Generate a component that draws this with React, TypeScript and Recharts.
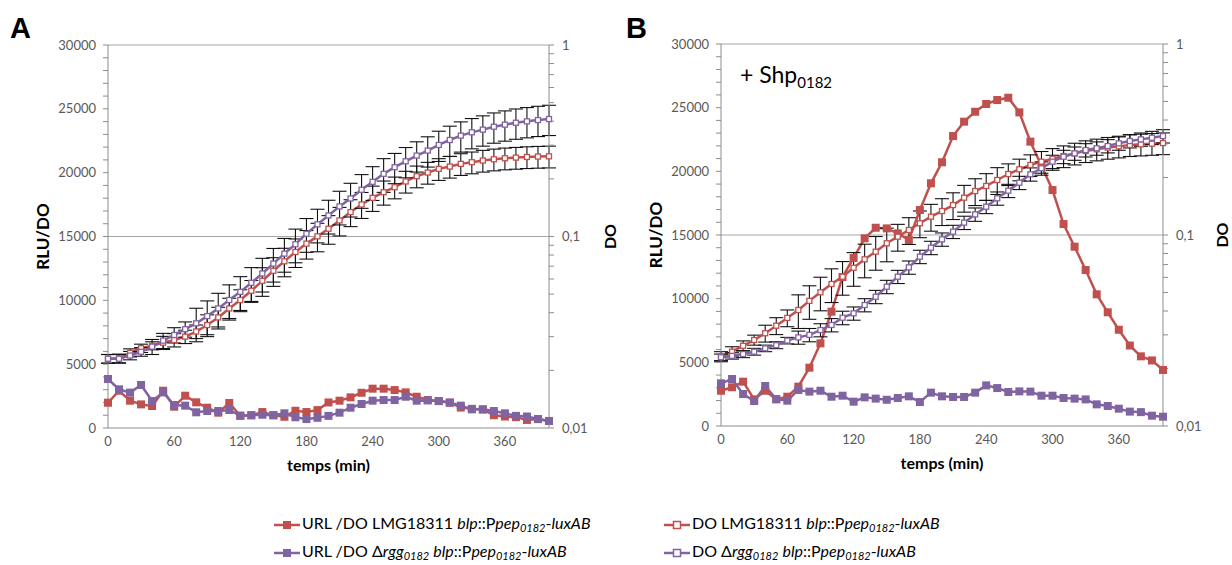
import React from "react";
import { ComposedChart, Line, XAxis, YAxis, ErrorBar, ReferenceLine, Label } from "recharts";

// temps (min)
const time = [0, 10, 20, 30, 40, 50, 60, 70, 80, 90, 100, 110, 120, 130, 140, 150, 160, 170, 180, 190, 200, 210, 220, 230, 240, 250, 260, 270, 280, 290, 300, 310, 320, 330, 340, 350, 360, 370, 380, 390, 400];

// panel A
const aRluRed = [1980, 2920, 2140, 1850, 1720, 2920, 1670, 2530, 2010, 1590, 1200, 1960, 960, 1000, 1250, 1000, 880, 1350, 1250, 1400, 2000, 2140, 2400, 2760, 3080, 3080, 2970, 2790, 2450, 2190, 2110, 1980, 1600, 1500, 1450, 1000, 900, 850, 630, 700, 550];
const aDoRed = [0.023, 0.0231, 0.0247, 0.0261, 0.0269, 0.0279, 0.0288, 0.03, 0.0319, 0.0345, 0.0378, 0.0421, 0.0466, 0.0521, 0.0587, 0.0662, 0.0742, 0.083, 0.0918, 0.1002, 0.1098, 0.1213, 0.1341, 0.147, 0.1592, 0.1703, 0.1808, 0.1938, 0.2064, 0.2158, 0.2256, 0.2319, 0.2395, 0.2443, 0.2493, 0.2531, 0.2562, 0.2582, 0.2602, 0.2614, 0.2622];
const aDoRedErr = [0.0012, 0.0012, 0.0012, 0.0013, 0.0013, 0.0022, 0.0023, 0.0024, 0.0026, 0.0045, 0.0049, 0.0055, 0.0061, 0.0068, 0.01, 0.0113, 0.0126, 0.0141, 0.0156, 0.017, 0.0187, 0.0206, 0.0215, 0.0228, 0.024, 0.0245, 0.0235, 0.0252, 0.0268, 0.0281, 0.0293, 0.0301, 0.0311, 0.0318, 0.0324, 0.0329, 0.0333, 0.0336, 0.0338, 0.034, 0.0341];
const aRluPurple = [3840, 3030, 2770, 3370, 2110, 2790, 1800, 1750, 1230, 1330, 1330, 1410, 960, 1000, 1040, 1000, 1150, 840, 700, 800, 950, 1200, 1590, 1880, 2140, 2190, 2190, 2450, 2140, 2160, 2110, 2000, 1750, 1460, 1460, 1330, 1150, 950, 900, 700, 550];
const aDoPurple = [0.023, 0.023, 0.0239, 0.025, 0.0266, 0.0286, 0.0306, 0.0328, 0.0352, 0.0384, 0.0421, 0.0466, 0.0514, 0.0573, 0.0641, 0.0722, 0.0814, 0.0911, 0.1034, 0.1157, 0.1288, 0.1436, 0.158, 0.1754, 0.1929, 0.2125, 0.2301, 0.247, 0.2646, 0.281, 0.3006, 0.3192, 0.3363, 0.3499, 0.3614, 0.3744, 0.3837, 0.3926, 0.3993, 0.4055, 0.4105];
const aDoPurpleErr = [0.0012, 0.0012, 0.0012, 0.0013, 0.0024, 0.0026, 0.0028, 0.003, 0.007, 0.0077, 0.0084, 0.0093, 0.0103, 0.0115, 0.0128, 0.0144, 0.0163, 0.0182, 0.0207, 0.0231, 0.0258, 0.0287, 0.0316, 0.0351, 0.0386, 0.0425, 0.0414, 0.0445, 0.0476, 0.0506, 0.0541, 0.0575, 0.0605, 0.063, 0.0651, 0.0674, 0.0691, 0.0707, 0.0719, 0.073, 0.0739];

// panel B (+ Shp0182)
const bRluRed = [2770, 3040, 3480, 2090, 2770, 2090, 2300, 3090, 4580, 6490, 8980, 11700, 13200, 14740, 15570, 15520, 15130, 14610, 16960, 19060, 20710, 22770, 23900, 24680, 25290, 25600, 25780, 24630, 22330, 20440, 18530, 15860, 14080, 12250, 10340, 8930, 7560, 6320, 5470, 5150, 4400];
const bDoRed = [0.0231, 0.0245, 0.0263, 0.0282, 0.0306, 0.0335, 0.0368, 0.0405, 0.0452, 0.0501, 0.0554, 0.0605, 0.0674, 0.0746, 0.0818, 0.0905, 0.098, 0.1062, 0.1152, 0.1247, 0.1335, 0.1434, 0.1568, 0.1698, 0.1806, 0.1941, 0.2086, 0.2208, 0.2326, 0.2421, 0.2508, 0.259, 0.2675, 0.2754, 0.281, 0.2867, 0.2911, 0.2961, 0.2983, 0.3006, 0.3029];
const bDoRedErr = [0.0014, 0.0015, 0.0016, 0.0017, 0.0031, 0.0034, 0.0037, 0.0081, 0.009, 0.01, 0.0111, 0.0121, 0.0135, 0.0149, 0.0164, 0.0181, 0.0157, 0.017, 0.0184, 0.02, 0.0214, 0.0229, 0.0251, 0.0272, 0.0289, 0.0311, 0.0271, 0.0287, 0.0302, 0.0315, 0.0326, 0.0337, 0.0348, 0.0358, 0.0365, 0.0373, 0.0378, 0.0385, 0.0388, 0.0391, 0.0394];
const bRluPurple = [3350, 3690, 2510, 1960, 3140, 2120, 1990, 2830, 2700, 2770, 2300, 2380, 1910, 2250, 2150, 2060, 2200, 2330, 1880, 2620, 2330, 2280, 2280, 2620, 3190, 2980, 2670, 2720, 2700, 2380, 2380, 2200, 2150, 2090, 1700, 1570, 1360, 1130, 1090, 810, 730];
const bDoPurple = [0.0229, 0.0233, 0.0238, 0.0245, 0.0255, 0.0265, 0.028, 0.0291, 0.03, 0.0318, 0.0338, 0.0369, 0.0389, 0.043, 0.0475, 0.0536, 0.0605, 0.0677, 0.077, 0.0858, 0.0949, 0.1041, 0.1161, 0.1282, 0.1406, 0.1556, 0.1706, 0.1879, 0.208, 0.2235, 0.2421, 0.257, 0.2675, 0.2784, 0.2844, 0.2924, 0.302, 0.3105, 0.3167, 0.3231, 0.3296];
const bDoPurpleErr = [0.0009, 0.0009, 0.001, 0.001, 0.001, 0.0011, 0.0011, 0.0023, 0.0024, 0.0025, 0.0027, 0.003, 0.0031, 0.0034, 0.0038, 0.0043, 0.0048, 0.0054, 0.0062, 0.0069, 0.0076, 0.0083, 0.0093, 0.0103, 0.0112, 0.0124, 0.0136, 0.015, 0.0166, 0.0179, 0.0194, 0.0206, 0.0214, 0.0223, 0.0228, 0.0234, 0.0242, 0.0248, 0.0253, 0.0258, 0.0264];

// axes
const xTicks = [0, 60, 120, 180, 240, 300, 360];
const leftTicks = [0, 1000, 2000, 3000, 4000, 5000, 6000, 7000, 8000, 9000, 10000, 11000, 12000, 13000, 14000, 15000, 16000, 17000, 18000, 19000, 20000, 21000, 22000, 23000, 24000, 25000, 26000, 27000, 28000, 29000, 30000];
const leftLabels = [0, 5000, 10000, 15000, 20000, 25000, 30000];
const rightTicks = [0.01, 0.02, 0.03, 0.04, 0.05, 0.06, 0.07, 0.08, 0.09, 0.1, 0.2, 0.3, 0.4, 0.5, 0.6, 0.7, 0.8, 0.9, 1];
const rightLabels: Record<string, string> = { "0.01": "0,01", "0.1": "0,1", "1": "1" };

const RED = "#c0504d";
const PURPLE = "#8064a2";
const AXIS = "#8c8c8c";
const TICK_TXT = "#595959";
const FONT = "Lato, 'Open Sans', sans-serif";

const buildRows = (rluRed: number[], doRed: number[], doRedErr: number[], rluPurple: number[], doPurple: number[], doPurpleErr: number[]) =>
  time.map((t, i) => ({
    t,
    rluRed: rluRed[i],
    doRed: doRed[i],
    doRedErr: doRedErr[i],
    rluPurple: rluPurple[i],
    doPurple: doPurple[i],
    doPurpleErr: doPurpleErr[i],
  }));

const rowsA = buildRows(aRluRed, aDoRed, aDoRedErr, aRluPurple, aDoPurple, aDoPurpleErr);
const rowsB = buildRows(bRluRed, bDoRed, bDoRedErr, bRluPurple, bDoPurple, bDoPurpleErr);

const filledSquare = (color: string) => (p: any) => (
  <rect key={`f-${p.index}`} x={p.cx - 4} y={p.cy - 4} width={8} height={8} fill={color} />
);
const openSquare = (color: string) => (p: any) => (
  <rect key={`o-${p.index}`} x={p.cx - 2.5} y={p.cy - 2.5} width={5} height={5} fill="#fff" stroke={color} strokeWidth={1.3} />
);

const LeftTick = (p: any) =>
  leftLabels.includes(p.payload.value) ? (
    <text x={p.x} y={p.y} dy={4.5} textAnchor="end" fill={TICK_TXT} fontSize={13} fontFamily={FONT}>
      {p.payload.value}
    </text>
  ) : (
    <g />
  );

const RightTick = (p: any) =>
  rightLabels[String(p.payload.value)] ? (
    <text x={p.x} y={p.y} dy={4.5} textAnchor="start" fill={TICK_TXT} fontSize={13} fontFamily={FONT}>
      {rightLabels[String(p.payload.value)]}
    </text>
  ) : (
    <g />
  );

const vTitle = (text: string, offset: number, size: number) => (p: any) => {
  const vb = p.viewBox;
  const x = vb.x + offset;
  const y = vb.y + vb.height / 2;
  return (
    <text x={x} y={y} transform={`rotate(-90 ${x} ${y})`} textAnchor="middle" dominantBaseline="central" fontSize={size} fontWeight={700} fontFamily={FONT} fill="#000">
      {text}
    </text>
  );
};

type PanelProps = {
  rows: any[];
  left: number;
  width: number;
  top: number;
  bottom: number;
  rightWidth: number;
  doOffset: number;
};

const Panel = ({ rows, left, width, top, bottom, rightWidth, doOffset }: PanelProps) => (
  <div style={{ position: "absolute", left, top: 0 }}>
    <ComposedChart width={width} height={480} data={rows} margin={{ top, right: 0, bottom, left: 0 }}>
      <XAxis
        dataKey="t"
        type="number"
        domain={[0, 400]}
        ticks={xTicks}
        stroke={AXIS}
        tickLine={false}
        tickSize={5}
        tickMargin={4}
        height={45}
        tick={{ fill: TICK_TXT, fontSize: 13, fontFamily: FONT }}
      >
        <Label
          position="insideBottom"
          offset={2}
          value="temps (min)"
          style={{ fontSize: 16, fontWeight: 700, fontFamily: FONT, fill: "#000" }}
        />
      </XAxis>
      <YAxis
        yAxisId="rlu"
        domain={[0, 30000]}
        ticks={leftTicks}
        interval={0}
        width={108}
        stroke={AXIS}
        tickSize={5}
        tickMargin={7}
        tick={<LeftTick />}
      >
        <Label content={vTitle("RLU/DO", 42, 17)} />
      </YAxis>
      <YAxis
        yAxisId="do"
        orientation="right"
        scale="log"
        domain={[0.01, 1]}
        allowDataOverflow
        ticks={rightTicks}
        interval={0}
        width={rightWidth}
        stroke={AXIS}
        tickSize={5}
        tickMargin={8}
        tick={<RightTick />}
      >
        <Label content={vTitle("DO", doOffset, 16)} />
      </YAxis>
      <ReferenceLine yAxisId="do" y={0.1} stroke="#a6a6a6" strokeWidth={1} />
      <ReferenceLine yAxisId="do" y={1} stroke="#a6a6a6" strokeWidth={1} />
      <Line yAxisId="rlu" dataKey="rluRed" stroke={RED} strokeWidth={2.5} dot={filledSquare(RED)} isAnimationActive={false} />
      <Line yAxisId="do" dataKey="doRed" stroke={RED} strokeWidth={2.5} dot={openSquare(RED)} isAnimationActive={false}>
        <ErrorBar dataKey="doRedErr" direction="y" width={7} stroke="#111" strokeWidth={1.1} />
      </Line>
      <Line yAxisId="rlu" dataKey="rluPurple" stroke={PURPLE} strokeWidth={2.5} dot={filledSquare(PURPLE)} isAnimationActive={false} />
      <Line yAxisId="do" dataKey="doPurple" stroke={PURPLE} strokeWidth={2.5} dot={openSquare(PURPLE)} isAnimationActive={false}>
        <ErrorBar dataKey="doPurpleErr" direction="y" width={7} stroke="#111" strokeWidth={1.1} />
      </Line>
    </ComposedChart>
  </div>
);

const LegendMark = ({ color, open }: { color: string; open?: boolean }) => (
  <svg width={26} height={12} style={{ verticalAlign: "middle", marginRight: 2 }}>
    <line x1={0} y1={6} x2={26} y2={6} stroke={color} strokeWidth={2.5} />
    {open ? (
      <rect x={9.5} y={2.5} width={7} height={7} fill="#fff" stroke={color} strokeWidth={1.5} />
    ) : (
      <rect x={9} y={2} width={8} height={8} fill={color} />
    )}
  </svg>
);

const I = ({ children }: { children: React.ReactNode }) => <span style={{ fontStyle: "italic" }}>{children}</span>;
const Sub = ({ children }: { children: React.ReactNode }) => (
  <sub style={{ fontStyle: "italic", fontSize: 11, verticalAlign: -3 }}>{children}</sub>
);

const legendItem: React.CSSProperties = { position: "absolute", whiteSpace: "nowrap", fontSize: 16, lineHeight: "20px" };

export default function App() {
  return (
    <div style={{ position: "absolute", left: 0, top: 0, width: 1232, height: 565, background: "#fff", fontFamily: FONT, color: "#000", overflow: "hidden" }}>
      <Panel rows={rowsA} left={0} width={620} top={45} bottom={7} rightWidth={71} doOffset={60} />
      <Panel rows={rowsB} left={613} width={619} top={44} bottom={9} rightWidth={69} doOffset={58} />

      <div style={{ position: "absolute", left: 10, top: 12, fontSize: 29, fontWeight: 700, fontFamily: "'Liberation Sans', Arial, sans-serif" }}>A</div>
      <div style={{ position: "absolute", left: 626, top: 12, fontSize: 29, fontWeight: 700, fontFamily: "'Liberation Sans', Arial, sans-serif" }}>B</div>
      <div style={{ position: "absolute", left: 740, top: 60, fontSize: 23, whiteSpace: "nowrap" }}>
        + Shp<sub style={{ fontSize: 15, verticalAlign: -5 }}>0182</sub>
      </div>

      <div style={{ ...legendItem, left: 274, top: 513 }}>
        <LegendMark color={RED} />URL /DO LMG18311 <I>blp</I>::P<I>pep</I><Sub>0182</Sub>-<I>luxAB</I>
      </div>
      <div style={{ ...legendItem, left: 664, top: 513 }}>
        <LegendMark color={RED} open />DO LMG18311 <I>blp</I>::P<I>pep</I><Sub>0182</Sub>-<I>luxAB</I>
      </div>
      <div style={{ ...legendItem, left: 274, top: 541 }}>
        <LegendMark color={PURPLE} />URL /DO Δ<I>rgg</I><Sub>0182</Sub> <I>blp</I>::P<I>pep</I><Sub>0182</Sub>-<I>luxAB</I>
      </div>
      <div style={{ ...legendItem, left: 664, top: 541 }}>
        <LegendMark color={PURPLE} open />DO Δ<I>rgg</I><Sub>0182</Sub> <I>blp</I>::P<I>pep</I><Sub>0182</Sub>-<I>luxAB</I>
      </div>
    </div>
  );
}
